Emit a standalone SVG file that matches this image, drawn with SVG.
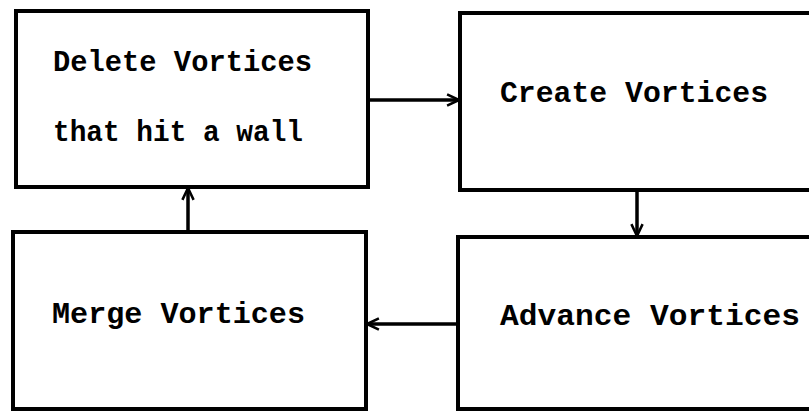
<svg xmlns="http://www.w3.org/2000/svg" width="809" height="412" viewBox="0 0 809 412">
<defs>
<style>
.box{fill:#fff;stroke:#000;stroke-width:4}
.lbl{font-family:"Liberation Mono","DejaVu Sans Mono",monospace;font-weight:bold;font-size:30px;fill:#000}
.conn{stroke:#000;stroke-width:3.5;fill:none}
</style>
<marker id="arr" viewBox="0 0 10 10" refX="9.5" refY="5" markerWidth="4" markerHeight="4" markerUnits="strokeWidth" orient="auto">
<path d="M1,1 L9.5,5 L1,9" fill="none" stroke="#000" stroke-width="1.8"/>
</marker>
</defs>
<rect width="809" height="412" fill="#fff"/>
<g id="delete">
<rect class="box" x="16" y="11" width="352" height="176"/>
<text class="lbl" x="53" y="71" textLength="259" lengthAdjust="spacingAndGlyphs">Delete Vortices</text>
<text class="lbl" x="53" y="141" textLength="250" lengthAdjust="spacingAndGlyphs">that hit a wall</text>
</g>
<g id="create">
<rect class="box" x="460" y="13" width="360" height="177"/>
<text class="lbl" x="500" y="102" textLength="268" lengthAdjust="spacingAndGlyphs">Create Vortices</text>
</g>
<g id="merge">
<rect class="box" x="13" y="232" width="353" height="177"/>
<text class="lbl" x="52" y="323" textLength="253" lengthAdjust="spacingAndGlyphs">Merge Vortices</text>
</g>
<g id="advance">
<rect class="box" x="458" y="237" width="360" height="172"/>
<text class="lbl" x="500" y="325" textLength="300" lengthAdjust="spacingAndGlyphs">Advance Vortices</text>
</g>
<g id="connectors">
<line class="conn" x1="368" y1="100" x2="459" y2="100" marker-end="url(#arr)"/>
<line class="conn" x1="637" y1="190" x2="637" y2="236" marker-end="url(#arr)"/>
<line class="conn" x1="458" y1="324" x2="367" y2="324" marker-end="url(#arr)"/>
<line class="conn" x1="188" y1="232" x2="188" y2="188" marker-end="url(#arr)"/>
</g>
</svg>
